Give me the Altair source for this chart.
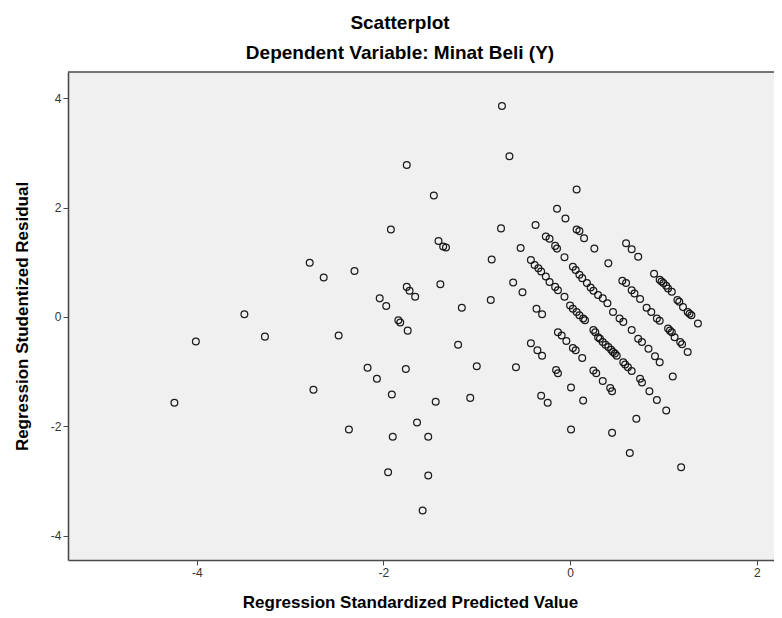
import altair as alt
import pandas as pd

# ---- data (x = standardized predicted, y = studentized residual) ----
scatter_x = [-4.24, -4.01, -3.49, -3.27, -2.79, -2.75, -2.64, -2.48, -2.31, -2.37,
             -2.17, -2.07, -2.04, -1.97, -1.95, -1.92, -1.91, -1.90, -1.84, -1.82,
             -1.75, -1.75, -1.72, -1.66, -1.74, -1.76, -1.64, -1.58, -1.52, -1.52,
             -1.44, -1.46, -1.41, -1.36, -1.33, -1.39, -1.20, -1.16, -1.07, -1.00,
             -0.85, -0.84, -0.73, -0.74, -0.65, -0.61, -0.58, -0.51, -0.53]
scatter_y = [-1.57, -0.45, 0.05, -0.36, 0.99, -1.33, 0.72, -0.34, 0.84, -2.06,
             -0.93, -1.13, 0.34, 0.20, -2.84, 1.60, -1.42, -2.19, -0.06, -0.10,
             2.78, 0.55, 0.48, 0.37, -0.25, -0.95, -1.93, -3.54, -2.19, -2.90,
             -1.55, 2.22, 1.39, 1.29, 1.27, 0.60, -0.51, 0.17, -1.48, -0.90,
             0.31, 1.05, 3.86, 1.62, 2.94, 0.63, -0.92, 0.45, 1.26]

band4_x = [0.07, 0.60, 0.66, 0.73, 0.90, 0.96, 0.98, 1.00, 1.03, 1.05, 1.09, 1.15,
           1.17, 1.21, 1.26, 1.28, 1.30, 1.37]
band4_y = [2.33, 1.35, 1.24, 1.10, 0.79, 0.68, 0.65, 0.62, 0.57, 0.52, 0.46, 0.31,
           0.28, 0.18, 0.09, 0.06, 0.03, -0.12]

band3_x = [-0.14, -0.05, 0.07, 0.10, 0.15, 0.26, 0.41, 0.56, 0.60, 0.66, 0.69, 0.75,
           0.82, 0.87, 0.93, 0.96, 1.05, 1.07, 1.09, 1.12, 1.18, 1.20, 1.26]
band3_y = [1.98, 1.80, 1.60, 1.57, 1.44, 1.25, 0.98, 0.66, 0.62, 0.49, 0.43, 0.33,
           0.17, 0.09, -0.03, -0.07, -0.21, -0.25, -0.28, -0.37, -0.46, -0.50, -0.64]

band2_x = [-0.37, -0.26, -0.22, -0.16, -0.14, -0.06, 0.03, 0.06, 0.10, 0.13, 0.18,
           0.22, 0.25, 0.30, 0.35, 0.40, 0.46, 0.53, 0.57, 0.66, 0.73, 0.77, 0.84,
           0.91, 0.96, 1.10]
band2_y = [1.68, 1.47, 1.43, 1.30, 1.25, 1.09, 0.92, 0.86, 0.77, 0.71, 0.62,
           0.54, 0.48, 0.40, 0.34, 0.25, 0.09, -0.03, -0.09, -0.24, -0.40, -0.46, -0.58,
           -0.72, -0.83, -1.09]

band1_x = [-0.42, -0.38, -0.34, -0.31, -0.26, -0.22, -0.16, -0.13, -0.06, 0.00, 0.03,
           0.07, 0.10, 0.14, 0.16, 0.25, 0.27, 0.30, 0.32, 0.35, 0.38, 0.41, 0.44,
           0.46, 0.48, 0.50, 0.57, 0.59, 0.62, 0.66, 0.75, 0.77, 0.85, 0.93, 1.03]
band1_y = [1.04, 0.95, 0.89, 0.83, 0.74, 0.64, 0.55, 0.49, 0.37, 0.21, 0.15,
           0.09, 0.03, -0.03, -0.06, -0.24, -0.28, -0.37, -0.40, -0.46, -0.51, -0.55, -0.60,
           -0.64, -0.67, -0.71, -0.83, -0.87, -0.92, -0.99, -1.13, -1.20, -1.36, -1.52, -1.71]

band0_x = [-0.36, -0.30, -0.13, -0.09, -0.04, 0.03, 0.06, 0.13, 0.25, 0.28, 0.35,
           0.43, 0.45, 0.71, 1.19]
band0_y = [0.15, 0.05, -0.28, -0.34, -0.44, -0.57, -0.61, -0.75, -0.98, -1.03, -1.17,
           -1.30, -1.36, -1.86, -2.75]

bandm1_x = [-0.42, -0.35, -0.30, -0.15, -0.13, 0.01, 0.14, 0.45, 0.64]
bandm1_y = [-0.48, -0.61, -0.71, -0.97, -1.03, -1.29, -1.53, -2.12, -2.49]

bandm2_x = [-0.31, -0.24, 0.01]
bandm2_y = [-1.44, -1.57, -2.06]

x_ticks = [-4, -2, 0, 2]
y_ticks = [-4, -2, 0, 2, 4]

xs = scatter_x + band4_x + band3_x + band2_x + band1_x + band0_x + bandm1_x + bandm2_x
ys = scatter_y + band4_y + band3_y + band2_y + band1_y + band0_y + bandm1_y + bandm2_y
df = pd.DataFrame({"pred": xs, "resid": ys})

PLOT_W, PLOT_H = 706, 488
FRAME = "#4a4a4a"

x_scale = alt.Scale(domain=[-5.38, 2.185], nice=False, zero=False)
y_scale = alt.Scale(domain=[-4.445, 4.48], nice=False, zero=False)

points = alt.Chart(df).mark_point(
    shape="circle", filled=False, size=46, strokeWidth=1.25,
    color="#111111", opacity=0.95,
).encode(
    x=alt.X("pred:Q", scale=x_scale,
            axis=alt.Axis(values=x_ticks, title="Regression Standardized Predicted Value",
                          labelExpr="'' + datum.value", titleX=342, titleY=47,
                          titleBaseline="alphabetic", titleAlign="center")),
    y=alt.Y("resid:Q", scale=y_scale,
            axis=alt.Axis(values=y_ticks, title="Regression Studentized Residual",
                          labelExpr="'' + datum.value", titleX=-41, titleY=244,
                          titleBaseline="alphabetic", titleAlign="center")),
)

top_edge = alt.Chart(pd.DataFrame({"k": [0]})).mark_rule(
    color=FRAME, strokeWidth=1.6
).encode(x=alt.value(0), x2=alt.value(PLOT_W), y=alt.value(0))

chart = alt.layer(points, top_edge).properties(
    width=PLOT_W, height=PLOT_H,
    autosize=alt.AutoSizeParams(type="none"),
    padding={"left": 60, "top": 64, "right": 0, "bottom": 51},
    title=alt.TitleParams(
        text="Scatterplot", subtitle="Dependent Variable: Minat Beli (Y)",
        anchor="middle", dx=-21, offset=8, subtitlePadding=11,
        font="Liberation Sans", fontSize=19, fontWeight="bold", color="#000000",
        subtitleFont="Liberation Sans", subtitleFontSize=19, subtitleFontWeight="bold",
        subtitleColor="#000000",
    ),
).configure_view(
    fill="#f0f0f0", stroke=None,
).configure_axis(
    grid=False, domainColor=FRAME, domainWidth=1.6, tickColor=FRAME, tickWidth=1,
    tickSize=5, labelFont="Liberation Sans", labelFontSize=12, labelColor="#333333",
    labelPadding=2, titleFont="Liberation Sans", titleFontSize=17, titleFontWeight="bold",
    titleColor="#000000",
)

chart.save("out.html", embed_options={"renderer": "svg", "actions": False})
